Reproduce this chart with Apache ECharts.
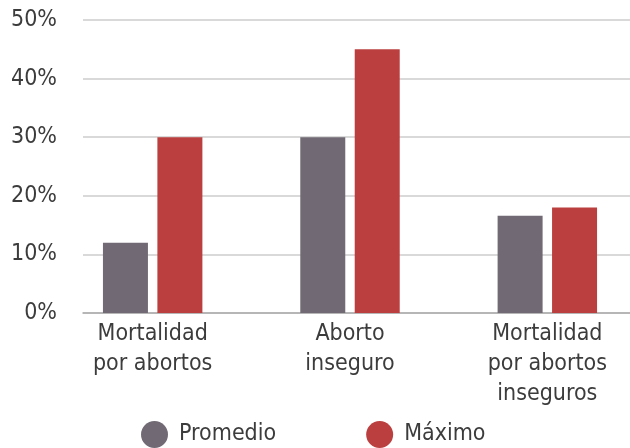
<!DOCTYPE html>
<html>
<head>
<meta charset="utf-8">
<script src="https://cdn.jsdelivr.net/npm/echarts@6/dist/echarts.min.js"></script>
<style>
  html, body { margin: 0; padding: 0; background: #fff; }
  #chart { width: 630px; height: 448px; }
</style>
</head>
<body>
<div id="chart"></div>
<script>
// datos
const categorias = ['Mortalidad\npor abortos', 'Aborto\ninseguro', 'Mortalidad\npor abortos\ninseguros']
const promedio = [12, 30, 16.6]
const maximo = [30, 45, 18]
const yTicks = [0, 10, 20, 30, 40, 50]

const fuente = '"Liberation Sans Narrow", "DejaVu Sans Condensed", "Roboto", sans-serif'
const colorTexto = '#3c3c3c'

let chart = echarts.init(document.getElementById('chart'))

let options = {
  animation: false,
  textStyle: { fontFamily: fuente },
  grid: [
    // rejilla de fondo (lineas + etiquetas del eje y)
    { left: 83, right: 0, top: 20, bottom: 135, outerBoundsMode: 'none' },
    // rejilla de las barras (algo mas ancha que el lienzo)
    { left: 54, width: 592, top: 20, bottom: 135, outerBoundsMode: 'none' }
  ],
  legend: {
    data: ['Promedio', 'Máximo'],
    left: 136,
    top: 416,
    icon: 'circle',
    itemWidth: 27,
    itemHeight: 27,
    itemGap: 90,
    textStyle: { fontFamily: fuente, fontSize: 23, color: colorTexto, padding: [0, 0, 0, 6] }
  },
  xAxis: [
    {
      gridIndex: 0, type: 'value', min: 0, max: 1,
      axisLine: { show: true, onZero: false, lineStyle: { color: '#aaaaaa', width: 1.5 } },
      axisTick: { show: false }, axisLabel: { show: false }, splitLine: { show: false }
    },
    {
      gridIndex: 1, type: 'category', data: categorias,
      axisLine: { show: false }, axisTick: { show: false },
      axisLabel: { fontFamily: fuente, fontSize: 23, lineHeight: 30, color: colorTexto, margin: 6, interval: 0 }
    }
  ],
  yAxis: [
    {
      gridIndex: 0, type: 'value', min: yTicks[0], max: yTicks[yTicks.length - 1], interval: 10,
      axisLine: { show: false }, axisTick: { show: false },
      axisLabel: { formatter: '{value}%', fontFamily: fuente, fontSize: 23, color: colorTexto, margin: 26 },
      splitLine: { lineStyle: { color: '#cccccc', width: 1.5 } }
    },
    {
      gridIndex: 1, type: 'value', min: yTicks[0], max: yTicks[yTicks.length - 1], interval: 10,
      show: false
    }
  ],
  series: [
    {
      name: 'Promedio', type: 'bar', data: promedio,
      xAxisIndex: 1, yAxisIndex: 1,
      barWidth: 45, barGap: '21%',
      itemStyle: { color: '#716a75' }
    },
    {
      name: 'Máximo', type: 'bar', data: maximo,
      xAxisIndex: 1, yAxisIndex: 1,
      barWidth: 45, barGap: '21%',
      itemStyle: { color: '#bb3f3f' }
    }
  ]
}

chart.setOption(options)
window.addEventListener('resize', function () {
  chart.resize()
})
</script>
</body>
</html>
